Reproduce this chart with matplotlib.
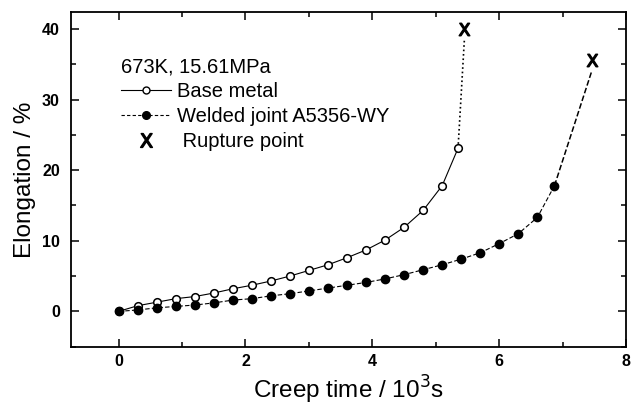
import matplotlib
matplotlib.use("Agg")
import matplotlib.pyplot as plt
from matplotlib.lines import Line2D
from matplotlib.ticker import MultipleLocator

plt.rcParams['font.family'] = ['Liberation Sans', 'DejaVu Sans']

# creep time (10^3 s) and elongation (%)
base_t = [0, 0.3, 0.6, 0.9, 1.2, 1.5, 1.8, 2.1, 2.4, 2.7, 3.0, 3.3, 3.6, 3.9,
          4.2, 4.5, 4.8, 5.1, 5.35]
base_e = [0, 0.8, 1.3, 1.8, 2.1, 2.6, 3.2, 3.7, 4.3, 5.0, 5.8, 6.6, 7.6, 8.7,
          10.1, 11.9, 14.3, 17.8, 23.1]

weld_t = [0, 0.3, 0.6, 0.9, 1.2, 1.5, 1.8, 2.1, 2.4, 2.7, 3.0, 3.3, 3.6, 3.9,
          4.2, 4.5, 4.8, 5.1, 5.4, 5.7, 6.0, 6.3, 6.6, 6.87]
weld_e = [0, 0.2, 0.5, 0.7, 0.9, 1.2, 1.6, 1.8, 2.2, 2.5, 2.9, 3.3, 3.7, 4.1,
          4.6, 5.2, 5.9, 6.6, 7.4, 8.3, 9.6, 11.0, 13.3, 17.8]

# rupture points
rup_base = (5.45, 40.0)
rup_weld = (7.46, 35.6)

fig = plt.figure(figsize=(6.37, 4.12), dpi=100)
ax = fig.add_axes([0.1115, 0.1585, 0.8715, 0.8125])

ax.plot(base_t, base_e, '-', color='black', lw=0.8, marker='o', ms=5.5,
        mfc='white', mec='black', mew=1.1, zorder=3)
ax.plot(weld_t, weld_e, color='black', lw=0.8, ls=(0, (4, 2)), marker='o', ms=6,
        mfc='black', mec='black', zorder=3)

# lines up to rupture
ax.plot([base_t[-1], rup_base[0]], [base_e[-1], rup_base[1] - 1.5], ':', color='black', lw=1.2)
ax.plot([weld_t[-1], rup_weld[0]], [weld_e[-1], rup_weld[1] - 1.5], '--', color='black', lw=1.1)
xm = r'$\mathsf{X}$'
ax.plot([rup_base[0], rup_weld[0]], [rup_base[1], rup_weld[1]], ls='none', marker=xm,
        ms=9, color='black')

ax.set_xlim(-0.75, 8.0)
ax.set_ylim(-5, 42.4)
ax.xaxis.set_major_locator(MultipleLocator(2))
ax.xaxis.set_minor_locator(MultipleLocator(1))
ax.yaxis.set_major_locator(MultipleLocator(10))
ax.yaxis.set_minor_locator(MultipleLocator(5))
ax.tick_params(which='both', direction='in', top=True, right=True, width=1.1, labelsize=11.5)
ax.tick_params(which='major', length=6)
ax.tick_params(which='minor', length=3.5)
ax.tick_params(axis='y', pad=8)
ax.tick_params(axis='x', pad=5)
for lbl in ax.get_xticklabels() + ax.get_yticklabels():
    lbl.set_fontweight('bold')
for s in ax.spines.values():
    s.set_linewidth(1.3)

ax.set_xlabel('Creep time / 10$^3$s', fontsize=17.5, labelpad=4)
ax.set_ylabel('Elongation / %', fontsize=17.5, labelpad=4)

handles = [
    Line2D([], [], color='black', lw=0.8, marker='o', ms=5, mfc='white', mec='black'),
    Line2D([], [], color='black', lw=0.8, ls=(0, (3, 2)), marker='o', ms=5.5, mfc='black'),
    Line2D([], [], ls='none', marker=xm, ms=10, color='black'),
]
labels = ['Base metal', 'Welded joint A5356-WY', ' Rupture point']
leg = ax.legend(handles, labels, title='673K, 15.61MPa', title_fontsize=14.5, fontsize=14.5,
                loc='upper left', bbox_to_anchor=(0.09, 0.865), frameon=False,
                alignment='left', handlelength=2.5, handletextpad=0.3, labelspacing=0.3,
                borderaxespad=0, borderpad=0)

fig.savefig('out.png', dpi=100)
